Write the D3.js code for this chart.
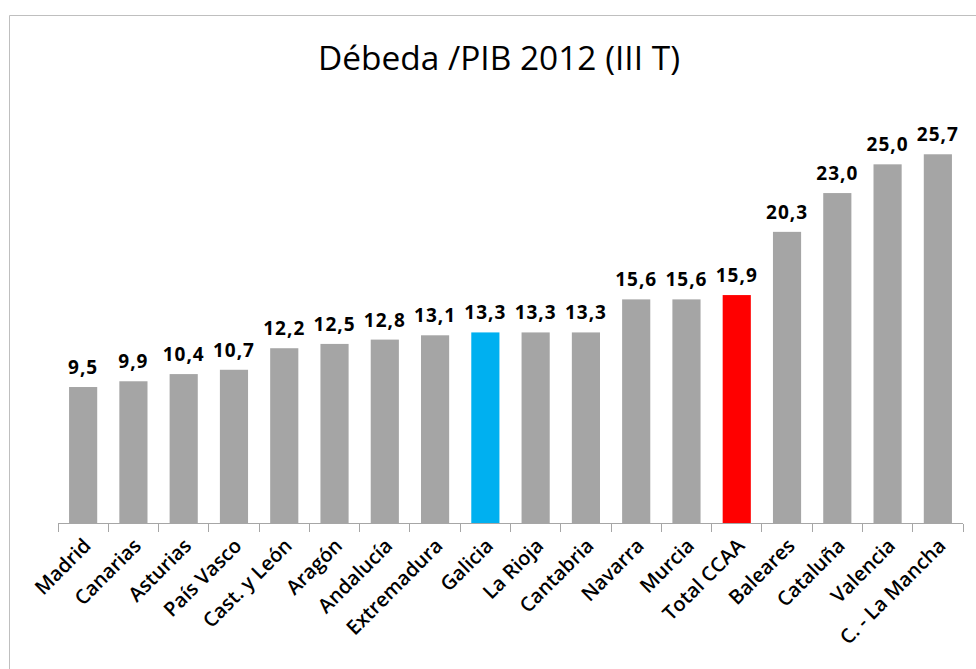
<!DOCTYPE html>
<html>
  <head>
    <meta charset="utf-8">
    <title>Débeda /PIB 2012 (III T)</title>
    <style>
      body { margin: 0; padding: 0; background: #fff; }
      .title { font-family: "Open Sans", sans-serif; font-size: 32px; fill: #000; }
      .value { font-family: "Open Sans", sans-serif; font-weight: bold; font-size: 19px;
               letter-spacing: 1px; fill: #000; }
      .cat { font-family: "Open Sans", sans-serif; font-weight: 600; font-size: 20px; fill: #000; }
    </style>
  </head>
  <body>
    <svg width="976" height="669"></svg>
    <script src="https://d3js.org/d3.v7.min.js"></script>
    <script>
      var regions = ["Madrid", "Canarias", "Asturias", "País Vasco", "Cast. y León", "Aragón",
                     "Andalucía", "Extremadura", "Galicia", "La Rioja", "Cantabria", "Navarra",
                     "Murcia", "Total CCAA", "Baleares", "Cataluña", "Valencia", "C. - La Mancha"];
      var debt = [9.5, 9.9, 10.4, 10.7, 12.2, 12.5, 12.8, 13.1, 13.3, 13.3, 13.3, 15.6,
                  15.6, 15.9, 20.3, 23.0, 25.0, 25.7];
      var highlight = { "Galicia": "#00B0F0", "Total CCAA": "#FF0000" };

      var svg = d3.select("svg");

      // chart area frame (only left and top edges show in the picture)
      svg.append("path")
          .attr("d", "M9.5,669V15.5H976")
          .attr("fill", "none")
          .attr("stroke", "#bfbfbf");

      svg.append("text")
          .attr("class", "title")
          .attr("x", 499)
          .attr("y", 70)
          .attr("text-anchor", "middle")
          .attr("textLength", 362)
          .attr("lengthAdjust", "spacingAndGlyphs")
          .text("Débeda /PIB 2012 (III T)");

      var x = d3.scaleBand().domain(regions).range([58, 963]).paddingInner(0.44).paddingOuter(0.22);
      var y = d3.scaleLinear().domain([0, 30]).range([523.5, 92.5]);

      var data = regions.map((r, i) => ({ name: r, value: debt[i] }));

      svg.append("g")
        .selectAll("rect")
        .data(data)
        .enter()
        .append("rect")
          .attr("x", d => x(d.name))
          .attr("width", x.bandwidth())
          .attr("y", d => y(d.value))
          .attr("height", d => y(0) - y(d.value))
          .attr("fill", d => highlight[d.name] || "#A5A5A5");

      // axis line with ticks at the category boundaries
      var edges = d3.range(regions.length + 1).map(i => 58 + i * (905 / regions.length));
      var axis = svg.append("g").attr("stroke", "#a6a6a6").attr("shape-rendering", "crispEdges");
      axis.append("line").attr("x1", 58).attr("x2", 963).attr("y1", 523.5).attr("y2", 523.5);
      axis.selectAll(".tick")
        .data(edges)
        .enter()
        .append("line")
          .attr("x1", d => d).attr("x2", d => d)
          .attr("y1", 523.5).attr("y2", 532);

      // value labels
      var fmt = d3.format(".1f");
      svg.append("g")
        .selectAll("text")
        .data(data)
        .enter()
        .append("text")
          .attr("class", "value")
          .attr("x", d => x(d.name) + x.bandwidth() / 2)
          .attr("y", d => y(d.value) - 13)
          .attr("text-anchor", "middle")
          .text(d => fmt(d.value).replace(".", ","));

      // rotated category labels
      svg.append("g")
        .selectAll("text")
        .data(regions)
        .enter()
        .append("text")
          .attr("class", "cat")
          .attr("text-anchor", "end")
          .attr("transform", d => `translate(${x(d) + x.bandwidth() / 2 + 9},${547}) rotate(-45)`)
          .text(d => d);
    </script>
  </body>
</html>
